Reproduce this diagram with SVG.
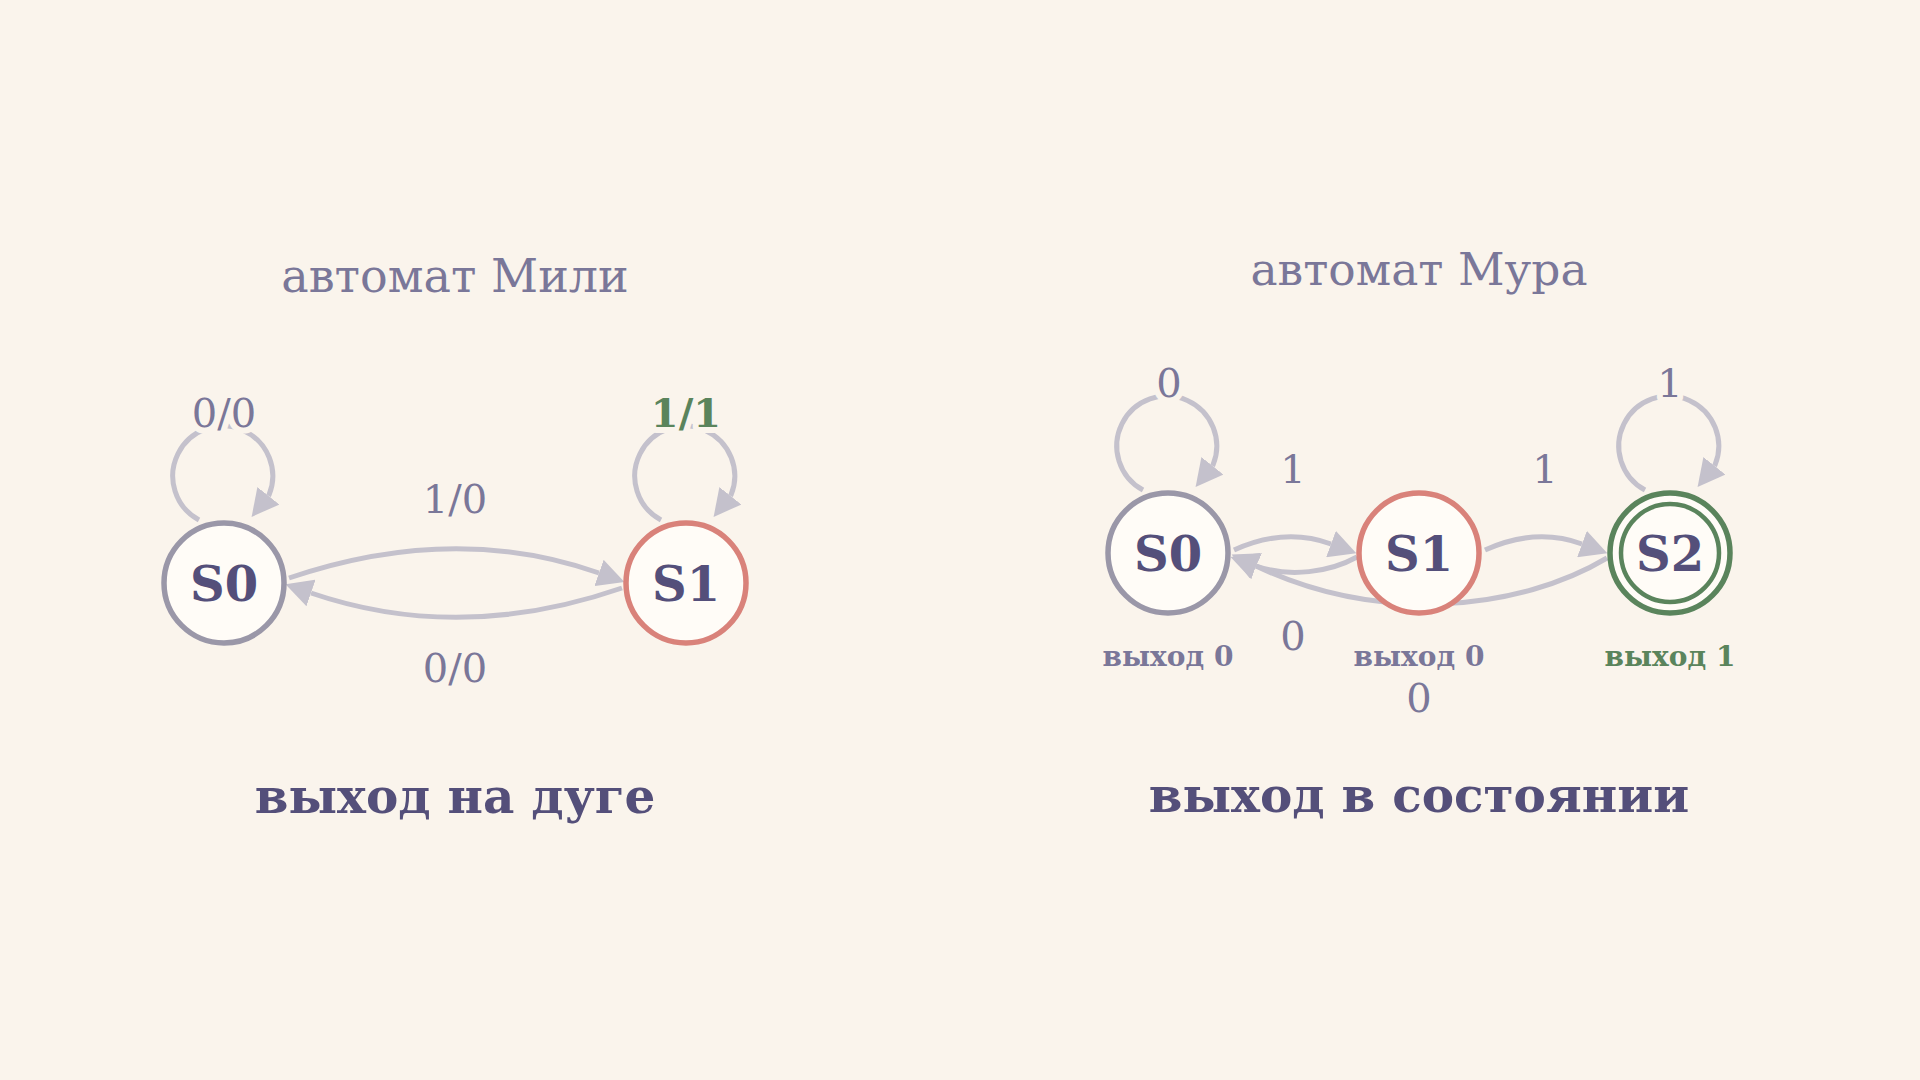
<svg xmlns="http://www.w3.org/2000/svg" width="1920" height="1080" viewBox="0 0 1920 1080">
  <defs>
    <marker id="arr" markerUnits="userSpaceOnUse" viewBox="0 0 28 28" markerWidth="28" markerHeight="28" refX="0" refY="14" orient="auto">
      <path d="M0,0 L27,14 L0,28 z" fill="#c4c1cc"/>
    </marker>
    <style>
      .edge { fill: none; stroke: #c4c1cc; stroke-width: 5; marker-end: url(#arr); }
      .node { fill: #fffcf7; stroke-width: 5.5; }
      .gray { stroke: #9a97a8; }
      .red { stroke: #d9827a; }
      .green { stroke: #5a845c; }
      .nlabel { font-family: "DejaVu Serif", serif; font-weight: bold; font-size: 48px; fill: #544f7a; text-anchor: middle; }
      .elabel { font-family: "DejaVu Serif", serif; font-size: 40px; fill: #7a7799; text-anchor: middle; stroke: #faf4ec; stroke-width: 12; stroke-linejoin: round; paint-order: stroke; }
      .title { font-family: "DejaVu Serif", serif; font-size: 46px; fill: #7a7799; text-anchor: middle; }
      .caption { font-family: "DejaVu Serif", serif; font-weight: bold; font-size: 48.5px; fill: #544f7a; text-anchor: middle; }
      .out { font-family: "DejaVu Serif", serif; font-weight: bold; font-size: 28px; fill: #7a7799; text-anchor: middle; }
    </style>
  </defs>
  <rect x="0" y="0" width="1920" height="1080" fill="#faf4ec"/>

  <text class="title" x="455" y="292">автомат Мили</text>
  <text class="title" x="1419" y="285" style="font-size:45.5px">автомат Мура</text>

  <g id="connectors">
    <!-- Mealy -->
    <path class="edge" d="M199,520 A50,50 0 1 1 269,495 l-0.62,0.78"/>
    <path class="edge" d="M661,520 A50,50 0 1 1 731,495 l-0.62,0.78"/>
    <path class="edge" d="M289,578 Q454,522 599,573"/>
    <path class="edge" d="M622,588 Q460,644 311,593"/>
    <!-- Moore -->
    <path class="edge" d="M1143,490 A50,50 0 1 1 1213,465 l-0.62,0.78"/>
    <path class="edge" d="M1645,490 A50,50 0 1 1 1715,465 l-0.62,0.78"/>
    <path class="edge" d="M1234,550 Q1285,527 1331,544"/>
    <path class="edge" d="M1485,550 Q1536,527 1582,544"/>
    <path class="edge" d="M1357,557 C1330,572 1290,578 1256,566"/>
    <path class="edge" d="M1607,558 C1520,610 1380,625 1256,566"/>
  </g>

  <g id="edge-labels">
    <text class="elabel" x="224" y="427">0/0</text>
    <text class="elabel" x="686" y="427" style="fill:#5a845c;font-weight:bold">1/1</text>
    <text class="elabel" x="455" y="513">1/0</text>
    <text class="elabel" x="455" y="682">0/0</text>
    <text class="elabel" x="1169" y="397">0</text>
    <text class="elabel" x="1670" y="397">1</text>
    <text class="elabel" x="1293" y="483">1</text>
    <text class="elabel" x="1545" y="483">1</text>
    <text class="elabel" x="1293" y="650">0</text>
    <text class="elabel" x="1419" y="712">0</text>
  </g>

  <g id="mealy-S0">
    <circle class="node gray" cx="224" cy="583" r="60"/>
    <text class="nlabel" x="224" y="601">S0</text>
  </g>
  <g id="mealy-S1">
    <circle class="node red" cx="686" cy="583" r="60"/>
    <text class="nlabel" x="686" y="601">S1</text>
  </g>

  <g id="moore-S0">
    <circle class="node gray" cx="1168" cy="553" r="60"/>
    <text class="nlabel" x="1168" y="571">S0</text>
    <text class="out" x="1168" y="666">выход 0</text>
  </g>
  <g id="moore-S1">
    <circle class="node red" cx="1419" cy="553" r="60"/>
    <text class="nlabel" x="1419" y="571">S1</text>
    <text class="out" x="1419" y="666">выход 0</text>
  </g>
  <g id="moore-S2">
    <circle class="node green" cx="1670" cy="553" r="60"/>
    <circle cx="1670" cy="553" r="49" fill="none" stroke="#5a845c" stroke-width="4.5"/>
    <text class="nlabel" x="1670" y="571">S2</text>
    <text class="out" x="1670" y="666" style="fill:#5a845c">выход 1</text>
  </g>

  <text class="caption" x="455" y="813">выход на дуге</text>
  <text class="caption" x="1419" y="812">выход в состоянии</text>
</svg>
